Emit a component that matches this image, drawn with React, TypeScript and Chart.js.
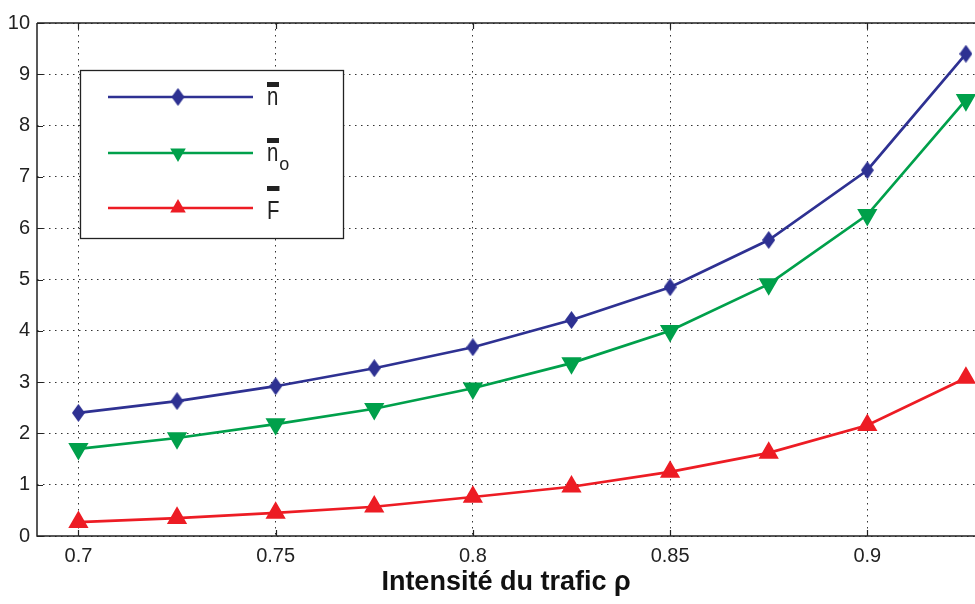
import React, { useEffect, useRef } from "react";
import { Chart, registerables } from "chart.js";

Chart.register(...registerables);

const X_VALUES = [0.7, 0.725, 0.75, 0.775, 0.8, 0.825, 0.85, 0.875, 0.9, 0.925];
const N_MEAN = [2.4, 2.63, 2.92, 3.27, 3.68, 4.21, 4.85, 5.77, 7.13, 9.4];
const N_O_MEAN = [1.7, 1.91, 2.18, 2.48, 2.88, 3.37, 4.0, 4.91, 6.26, 8.5];
const F_MEAN = [0.27, 0.35, 0.45, 0.57, 0.76, 0.96, 1.25, 1.62, 2.16, 3.08];
const X_TICKS = [0.7, 0.75, 0.8, 0.85, 0.9];
const X_TICK_LABELS = ["0.7", "0.75", "0.8", "0.85", "0.9"];
const Y_TICKS = [0, 1, 2, 3, 4, 5, 6, 7, 8, 9, 10];
const SERIES_LABELS = ["n\u0304", "n\u0304o", "F\u0304"];
const LEGEND_BASE = ["n", "n", "F"];
const LEGEND_SUB = ["", "o", ""];
const X_TITLE = "Intensité du trafic ρ";

const BLUE = "#2E3192";
const GREEN = "#00A04B";
const RED = "#ED1C24";
const FONT = "'Liberation Sans', Arial, sans-serif";

function makeDiamond(color: string) {
  const c = document.createElement("canvas");
  c.width = 13;
  c.height = 18;
  const g = c.getContext("2d")!;
  g.fillStyle = color;
  g.beginPath();
  g.moveTo(6.5, 0);
  g.lineTo(13, 9);
  g.lineTo(6.5, 18);
  g.lineTo(0, 9);
  g.closePath();
  g.fill();
  return c;
}

export default function App() {
  const ref = useRef<HTMLCanvasElement | null>(null);

  useEffect(() => {
    if (!ref.current) return;
    const diamond = makeDiamond(BLUE);

    const framePlugin = {
      id: "frame",
      beforeDatasetsDraw(chart: any) {
        const { ctx, chartArea } = chart;
        const xs = chart.scales.x;
        const ys = chart.scales.y;
        ctx.save();
        ctx.strokeStyle = "#222";
        ctx.lineWidth = 1.5;
        ctx.beginPath();
        ctx.moveTo(chartArea.left, chartArea.top);
        ctx.lineTo(chartArea.right, chartArea.top);
        ctx.moveTo(chartArea.left, chartArea.top);
        ctx.lineTo(chartArea.left, chartArea.bottom);
        ctx.lineTo(chartArea.right, chartArea.bottom);
        ctx.stroke();
        ctx.lineWidth = 1.2;
        ctx.beginPath();
        X_TICKS.forEach((v) => {
          const px = Math.round(xs.getPixelForValue(v)) + 0.5;
          ctx.moveTo(px, chartArea.bottom);
          ctx.lineTo(px, chartArea.bottom - 6);
          ctx.moveTo(px, chartArea.top);
          ctx.lineTo(px, chartArea.top + 6);
        });
        Y_TICKS.forEach((v) => {
          const py = Math.round(ys.getPixelForValue(v)) + 0.5;
          ctx.moveTo(chartArea.left, py);
          ctx.lineTo(chartArea.left + 6, py);
        });
        ctx.stroke();
        ctx.restore();
      },
    };

    const legendPlugin = {
      id: "customLegend",
      afterDraw(chart: any) {
        const { ctx } = chart;
        const box = { l: 80, t: 70, r: 343, b: 238 };
        ctx.save();
        ctx.fillStyle = "#fff";
        ctx.fillRect(box.l, box.t, box.r - box.l, box.b - box.t);
        ctx.strokeStyle = "#222";
        ctx.lineWidth = 1.3;
        ctx.strokeRect(box.l + 0.5, box.t + 0.5, box.r - box.l, box.b - box.t);
        const rows = [97, 153, 208];
        chart.data.datasets.forEach((ds: any, i: number) => {
          const y = rows[i];
          ctx.strokeStyle = ds.borderColor;
          ctx.lineWidth = 2.7;
          ctx.beginPath();
          ctx.moveTo(108, y);
          ctx.lineTo(253, y);
          ctx.stroke();
          const mx = 178;
          ctx.fillStyle = ds.borderColor;
          if (i === 0) {
            ctx.drawImage(diamond, mx - diamond.width / 2, y - diamond.height / 2);
          } else {
            const r = 9;
            const dir = i === 1 ? -1 : 1;
            ctx.beginPath();
            ctx.moveTo(mx, y - dir * r);
            ctx.lineTo(mx + r * 0.866, y + dir * r * 0.5);
            ctx.lineTo(mx - r * 0.866, y + dir * r * 0.5);
            ctx.closePath();
            ctx.fill();
          }
          ctx.fillStyle = "#222";
          ctx.textBaseline = "alphabetic";
          ctx.textAlign = "left";
          const base = LEGEND_BASE[i];
          const baseline = i === 2 ? 219 : y + 8;
          const bx = 267;
          ctx.save();
          ctx.translate(bx, baseline);
          ctx.scale(0.85, 1.1);
          ctx.font = `24px ${FONT}`;
          ctx.fillText(base, 0, 0);
          const w = ctx.measureText(base).width * 0.85;
          ctx.restore();
          const barTop = i === 2 ? 186 : baseline - 23;
          ctx.fillRect(bx, barTop, Math.max(12, w), 5);
          if (LEGEND_SUB[i]) {
            ctx.font = `18px ${FONT}`;
            ctx.fillText(LEGEND_SUB[i], bx + w + 1, baseline + 9);
          }
        });
        ctx.restore();
      },
    };

    const chart = new Chart(ref.current, {
      type: "line",
      data: {
        datasets: [
          {
            label: SERIES_LABELS[0],
            data: X_VALUES.map((x, i) => ({ x, y: N_MEAN[i] })),
            borderColor: BLUE,
            backgroundColor: BLUE,
            borderWidth: 2.7,
            pointStyle: diamond as any,
            pointRadius: 8,
            tension: 0,
          },
          {
            label: SERIES_LABELS[1],
            data: X_VALUES.map((x, i) => ({ x, y: N_O_MEAN[i] })),
            borderColor: GREEN,
            backgroundColor: GREEN,
            borderWidth: 2.7,
            pointStyle: "triangle",
            rotation: 180,
            pointRadius: 9,
            tension: 0,
          },
          {
            label: SERIES_LABELS[2],
            data: X_VALUES.map((x, i) => ({ x, y: F_MEAN[i] })),
            borderColor: RED,
            backgroundColor: RED,
            borderWidth: 2.7,
            pointStyle: "triangle",
            pointRadius: 9,
            tension: 0,
          },
        ],
      },
      options: {
        animation: false,
        responsive: false,
        layout: { autoPadding: false, padding: { top: 23, right: 0, left: 0, bottom: 0 } },
        plugins: { legend: { display: false }, tooltip: { enabled: false } },
        scales: {
          x: {
            type: "linear",
            min: 0.6895,
            max: 0.9273,
            afterBuildTicks: (s: any) => {
              s.ticks = X_TICKS.map((v) => ({ value: v }));
            },
            afterFit: (s: any) => {
              s.height = 68;
              s.paddingRight = 0;
              s.paddingLeft = 0;
            },
            ticks: {
              autoSkip: false,
              maxRotation: 0,
              padding: 8,
              color: "#222",
              font: { family: FONT, size: 20 },
              callback: (v: any) => {
                const idx = X_TICKS.findIndex((t) => Math.abs(t - v) < 1e-9);
                return idx >= 0 ? X_TICK_LABELS[idx] : "";
              },
            },
            grid: { color: "#333", lineWidth: 1, drawTicks: false },
            border: { display: false, dash: [1.5, 4.5] },
            title: {
              display: true,
              text: X_TITLE,
              color: "#111",
              font: { family: FONT, size: 27, weight: "bold" },
              padding: { top: 5, bottom: 5 },
            },
          },
          y: {
            type: "linear",
            min: 0,
            max: 10,
            afterBuildTicks: (s: any) => {
              s.ticks = Y_TICKS.map((v) => ({ value: v }));
            },
            afterFit: (s: any) => {
              s.width = 37;
              s.paddingTop = 0;
              s.paddingBottom = 0;
            },
            ticks: {
              padding: 7,
              color: "#222",
              font: { family: FONT, size: 20 },
              callback: (v: any) => String(v),
            },
            grid: { color: "#333", lineWidth: 1, drawTicks: false },
            border: { display: false, dash: [1.5, 4.5] },
          },
        },
      },
      plugins: [framePlugin, legendPlugin],
    } as any);

    return () => chart.destroy();
  }, []);

  return (
    <div style={{ position: "fixed", left: 0, top: 0, width: 975, height: 604, background: "#fff" }}>
      <canvas ref={ref} width={975} height={604} style={{ display: "block" }} />
    </div>
  );
}
